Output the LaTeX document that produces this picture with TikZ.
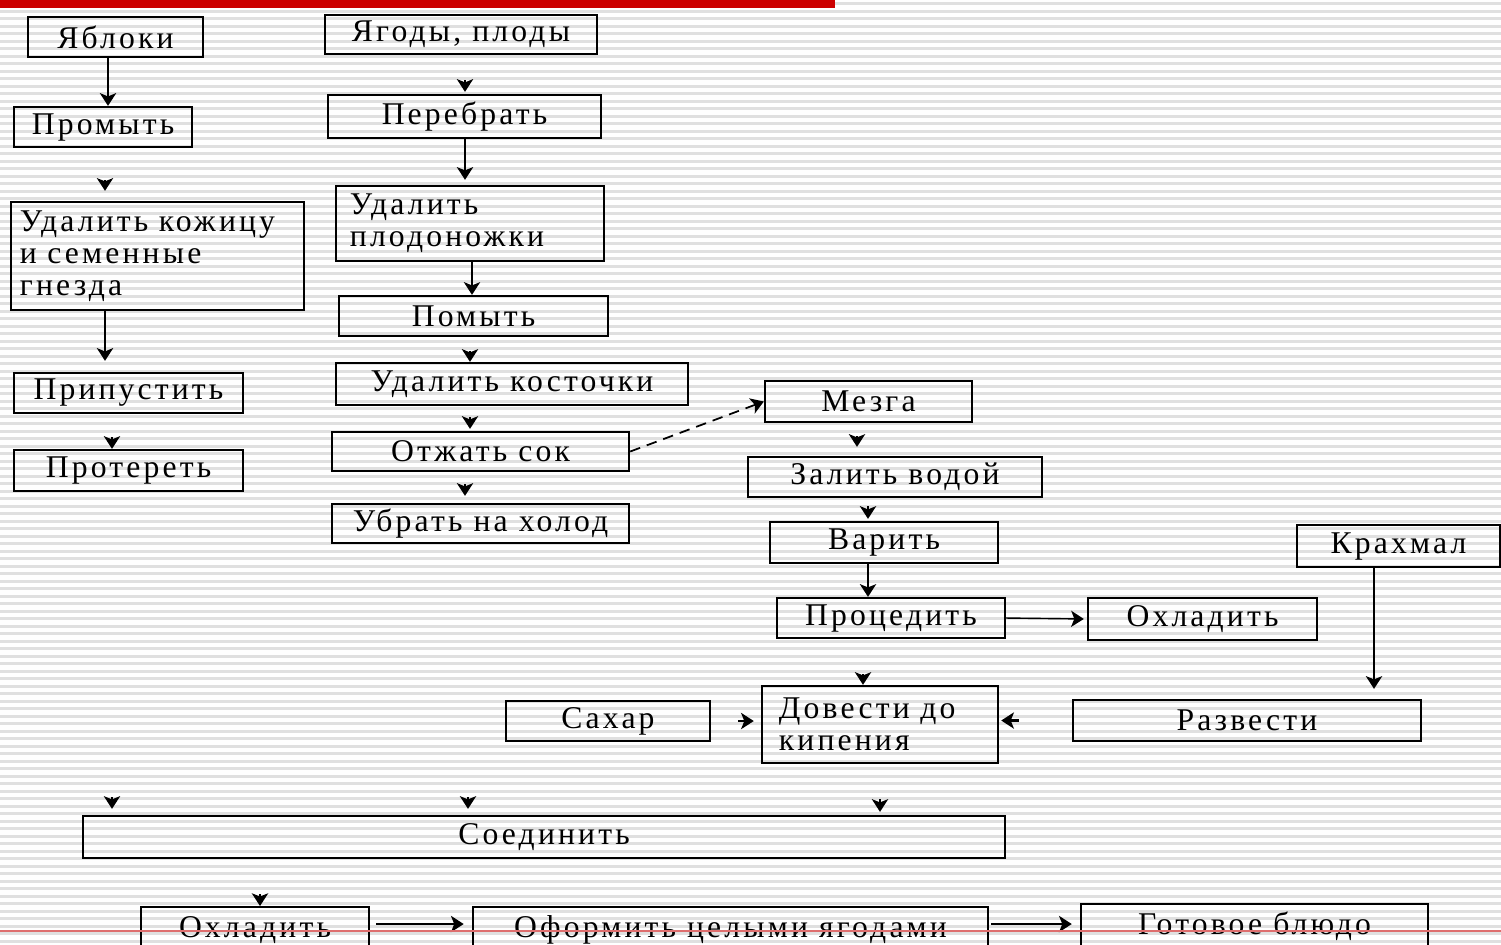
\documentclass[tikz,border=0pt]{standalone}
\usepackage{fontspec}
\setmainfont{Liberation Serif}[LetterSpace=10]
\usetikzlibrary{arrows.meta}
\definecolor{barred}{RGB}{204,0,0}
\definecolor{linered}{RGB}{222,110,110}
\definecolor{stripe}{RGB}{224,224,224}

\begin{document}
\begin{tikzpicture}[x=0.01cm, y=-0.01cm,
    box/.style={draw, line width=0.65pt, inner sep=0pt, font=\fontsize{9}{9.1}\selectfont},
    lastbox/.style={box, anchor=north, minimum height=0.6cm, text height=0.2cm, text depth=0.2cm},
    arr/.style={line width=0.65pt, -{Stealth[length=3.6pt,width=4.6pt,inset=0.9pt]}}]
  \useasboundingbox (0,0) rectangle (1501,944);
  \clip (0,0) rectangle (1501,944);
  % lined background
  \fill[white] (0,0) rectangle (1501,944);
  \foreach \y in {2,9.5,...,944}
    \fill[stripe] (0,\y) rectangle (1501,\y+3);
  \fill[barred] (0,0) rectangle (835,8);

  % apples
  \node[box, minimum width=1.75cm, minimum height=0.40cm] (yab) at (115.5,37) {Яблоки};
  \node[box, minimum width=1.78cm, minimum height=0.40cm] (prom) at (103,127) {Промыть};
  \node[box, minimum height=1.08cm, text width=2.75cm, inner xsep=0.09cm, align=left] (udk) at (157.5,256)
    {Удалить кожицу\\и семенные\\гнезда};
  \node[box, minimum width=2.29cm, minimum height=0.40cm] (prip) at (128.5,393) {Припустить};
  \node[box, minimum width=2.29cm, minimum height=0.41cm] (prot) at (128.5,470.5) {Протереть};

  % berries
  \node[box, minimum width=2.72cm, minimum height=0.39cm] (yag) at (461,34.5) {Ягоды, плоды};
  \node[box, minimum width=2.73cm, minimum height=0.43cm] (pereb) at (464.5,116.5) {Перебрать};
  \node[box, minimum height=0.75cm, text width=2.40cm, inner xsep=0.14cm, align=left] (udpl) at (470,223.5)
    {Удалить\\плодоножки};
  \node[box, minimum width=2.69cm, minimum height=0.40cm] (pom) at (473.5,316) {Помыть};
  \node[box, minimum width=3.52cm, minimum height=0.42cm] (udkost) at (512,384) {Удалить косточки};
  \node[box, minimum width=2.97cm, minimum height=0.39cm] (otzh) at (480.5,451.5) {Отжать сок};
  \node[box, minimum width=2.97cm, minimum height=0.39cm] (ubr) at (480.5,523.5) {Убрать на холод};

  % pulp
  \node[box, minimum width=2.07cm, minimum height=0.41cm] (mezga) at (868.5,401.5) {Мезга};
  \node[box, minimum width=2.94cm, minimum height=0.40cm] (zal) at (895,477) {Залить водой};
  \node[box, minimum width=2.28cm, minimum height=0.41cm] (var) at (884,542.5) {Варить};
  \node[box, minimum width=2.28cm, minimum height=0.40cm] (proc) at (891,618) {Процедить};
  \node[box, minimum width=2.29cm, minimum height=0.42cm] (okh1) at (1202.5,619) {Охладить};
  \node[box, minimum width=2.03cm, minimum height=0.42cm] (krakh) at (1398.5,546) {Крахмал};
  \node[box, minimum width=3.48cm, minimum height=0.41cm] (razv) at (1247,720.5) {Развести};
  \node[box, minimum width=2.04cm, minimum height=0.40cm] (sakh) at (608,721) {Сахар};
  \node[box, minimum height=0.77cm, text width=2.02cm, inner xsep=0.17cm, align=left] (dov) at (880,724.5)
    {Довести до\\кипения};

  % finish
  \node[box, minimum width=9.22cm, minimum height=0.42cm] (soed) at (544,837) {Соединить};
  \node[lastbox, minimum width=2.28cm] (okh2) at (255,906) {Охладить};
  \node[lastbox, minimum width=5.15cm] (oform) at (730.5,906) {Оформить целыми ягодами};
  \node[lastbox, minimum width=3.47cm] (gotov) at (1254.5,903) {Готовое блюдо};

  \draw[arr] (yab.south -| 108,0) -- (prom.north -| 108,0);
  \draw[arr, shorten <=0.32cm, shorten >=0.1cm] (prom.south -| 105,0) -- (udk.north -| 105,0);
  \draw[arr, shorten >=0.11cm] (udk.south -| 105,0) -- (prip.north -| 105,0);
  \draw[arr, shorten <=0.23cm] (prip.south -| 112,0) -- (prot.north -| 112,0);

  \draw[arr, shorten <=0.25cm, shorten >=0.02cm] (yag.south -| 465,0) -- (pereb.north -| 465,0);
  \draw[arr, shorten >=0.05cm] (pereb.south -| 465,0) -- (udpl.north -| 465,0);
  \draw[arr] (udpl.south -| 472,0) -- (pom.north -| 472,0);
  \draw[arr, shorten <=0.14cm] (pom.south -| 470,0) -- (udkost.north -| 470,0);
  \draw[arr, shorten <=0.11cm, shorten >=0.02cm] (udkost.south -| 470,0) -- (otzh.north -| 470,0);
  \draw[arr, shorten <=0.12cm, shorten >=0.07cm] (otzh.south -| 465,0) -- (ubr.north -| 465,0);
  \draw[arr, densely dashed, line width=0.5pt] (otzh.east) -- (mezga.west);

  \draw[arr, shorten <=0.13cm, shorten >=0.09cm] (mezga.south -| 857,0) -- (zal.north -| 857,0);
  \draw[arr, shorten <=0.08cm, shorten >=0.02cm] (zal.south -| 868,0) -- (var.north -| 868,0);
  \draw[arr] (var.south -| 868,0) -- (proc.north -| 868,0);
  \draw[arr, line width=0.4pt, shorten >=0.03cm] (proc.east) -- (okh1.west);
  \draw[arr, shorten >=0.1cm] (1374,0 |- krakh.south) -- (1374,0 |- razv.north);
  \draw[arr, shorten <=0.35cm] (proc.south -| 863,0) -- (dov.north -| 863,0);
  \draw[arr, shorten <=0.27cm, shorten >=0.07cm] (sakh.east) -- (sakh.east -| dov.west);
  \draw[arr, shorten <=0.53cm, shorten >=0.02cm] (razv.west) -- (razv.west -| dov.east);

  \draw[arr, shorten <=3.05cm, shorten >=0.06cm] (prot.south -| 112,0) -- (soed.north -| 112,0);
  \draw[arr, shorten <=2.53cm, shorten >=0.06cm] (ubr.south -| 468,0) -- (soed.north -| 468,0);
  \draw[arr, shorten <=0.35cm, shorten >=0.03cm] (dov.south -| 880,0) -- (soed.north -| 880,0);
  \draw[arr, shorten <=0.35cm] (soed.south -| 260,0) -- (okh2.north -| 260,0);
  \draw[arr, shorten <=0.06cm, shorten >=0.08cm] (okh2.east |- 0,924) -- (oform.west |- 0,924);
  \draw[arr, shorten <=0.02cm, shorten >=0.08cm] (oform.east |- 0,924) -- (gotov.west |- 0,924);

  \draw[linered, line width=0.5pt] (0,931) -- (1501,931);
\end{tikzpicture}
\end{document}
